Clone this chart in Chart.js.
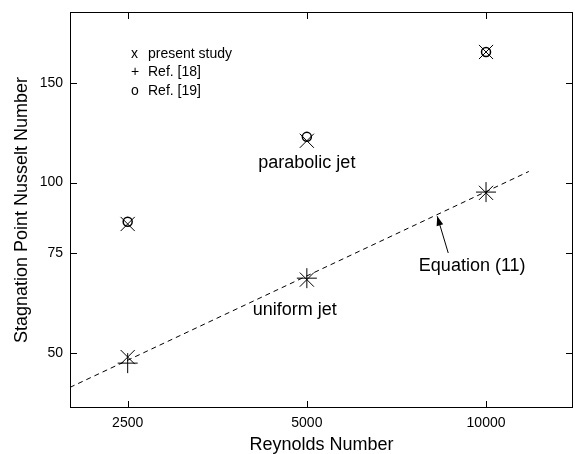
<!DOCTYPE html>
<html>
<head>
<meta charset="utf-8">
<title>Stagnation Point Nusselt Number</title>
<script src="https://cdn.jsdelivr.net/npm/chart.js@4/dist/chart.umd.min.js"></script>
<style>
    body { margin: 0; background: #fff; }
    canvas { display: block; }
</style>
</head>
<body>
<canvas id="nusseltChart" width="575" height="454"></canvas>
<script>
// =============================================
//              DATA
// =============================================

const reynolds = [2500, 5000, 10000];

// uniform jet (lower group) and parabolic jet (upper group)
const presentUniform = [49.2, 67.4, 95.9];
const presentParabolic = [84.5, 118.5, 170];
const ref18Uniform = [48.0, 67.8, 96.2];
const ref19Parabolic = [85.3, 120.4, 170];

// Equation (11), drawn as a straight dashed line on the log-log axes
const equationRe = [2000, 11800];
const equationNu = [43.5, 104.6];

const xTickValues = [2500, 5000, 10000];
const yTickValues = [50, 75, 100, 150];

const FONT = '"Liberation Sans", Arial, Helvetica, sans-serif';

const toPoints = (xs, ys) => xs.map((x, i) => ({ x: x, y: ys[i] }));

// =============================================
//              FRAME, TICKS AND NOTES
// =============================================

const frameAndNotes = {
    id: 'frameAndNotes',
    afterDatasetsDraw(chart) {
        const { ctx, chartArea: a, scales: { x, y } } = chart;
        ctx.save();
        ctx.strokeStyle = '#000';
        ctx.lineWidth = 1;

        // box round the plot area
        ctx.strokeRect(a.left + 0.5, a.top + 0.5, a.right - a.left - 1, a.bottom - a.top - 1);

        // inward tick marks on all four sides
        const len = 7;
        ctx.beginPath();
        xTickValues.forEach(v => {
            const px = Math.round(x.getPixelForValue(v)) + 0.5;
            ctx.moveTo(px, a.bottom); ctx.lineTo(px, a.bottom - len);
            ctx.moveTo(px, a.top); ctx.lineTo(px, a.top + len);
        });
        yTickValues.forEach(v => {
            const py = Math.round(y.getPixelForValue(v)) + 0.5;
            ctx.moveTo(a.left, py); ctx.lineTo(a.left + len, py);
            ctx.moveTo(a.right, py); ctx.lineTo(a.right - len, py);
        });
        ctx.stroke();

        // hand-written key in the upper left corner
        ctx.fillStyle = '#000';
        ctx.textBaseline = 'middle';
        ctx.textAlign = 'left';
        ctx.font = '14px ' + FONT;
        const keyX = a.left + 61;
        const keyRows = [['x', 'present study', 54], ['+', 'Ref. [18]', 72.5], ['o', 'Ref. [19]', 91]];
        keyRows.forEach(([sym, label, ky]) => {
            ctx.fillText(sym, keyX, ky);
            ctx.fillText(label, keyX + 17, ky);
        });

        // curve labels
        ctx.font = '18px ' + FONT;
        ctx.textAlign = 'center';
        ctx.fillText('parabolic jet', x.getPixelForValue(5000), y.getPixelForValue(108.3));
        ctx.fillText('uniform jet', x.getPixelForValue(4770), y.getPixelForValue(59.6));
        ctx.fillText('Equation (11)', x.getPixelForValue(9480), y.getPixelForValue(71.3));

        // arrow pointing at the dashed line
        const tx = x.getPixelForValue(8640), ty = y.getPixelForValue(75.1);
        const hx = x.getPixelForValue(8280), hy = y.getPixelForValue(87.2);
        const ang = Math.atan2(hy - ty, hx - tx);
        ctx.beginPath();
        ctx.moveTo(tx, ty);
        ctx.lineTo(hx, hy);
        ctx.stroke();
        ctx.beginPath();
        ctx.moveTo(hx, hy);
        ctx.lineTo(hx - 10 * Math.cos(ang - 0.35), hy - 10 * Math.sin(ang - 0.35));
        ctx.lineTo(hx - 10 * Math.cos(ang + 0.35), hy - 10 * Math.sin(ang + 0.35));
        ctx.closePath();
        ctx.fill();

        ctx.restore();
    }
};

// =============================================
//              CHART
// =============================================

new Chart(document.getElementById('nusseltChart'), {
    type: 'scatter',
    data: {
        datasets: [
            {
                label: 'Equation (11)',
                type: 'line',
                data: toPoints(equationRe, equationNu),
                borderColor: '#000',
                borderWidth: 1,
                borderDash: [5, 4],
                pointRadius: 0,
                fill: false
            },
            {
                label: 'present study',
                data: toPoints(reynolds, presentUniform).concat(toPoints(reynolds, presentParabolic)),
                pointStyle: 'crossRot',
                pointRadius: 10,
                borderColor: '#000',
                borderWidth: 1
            },
            {
                label: 'Ref. [18]',
                data: toPoints(reynolds, ref18Uniform),
                pointStyle: 'cross',
                pointRadius: 10,
                borderColor: '#000',
                borderWidth: 1
            },
            {
                label: 'Ref. [19]',
                data: toPoints(reynolds, ref19Parabolic),
                pointStyle: 'circle',
                pointRadius: 4.5,
                backgroundColor: 'rgba(0,0,0,0)',
                borderColor: '#000',
                borderWidth: 1.5
            }
        ]
    },
    options: {
        responsive: false,
        animation: false,
        layout: {
            autoPadding: false,
            padding: { top: 12, right: 2, left: 0, bottom: 0 }
        },
        plugins: {
            legend: { display: false },
            tooltip: { enabled: false }
        },
        scales: {
            x: {
                type: 'logarithmic',
                min: 2000,
                max: 14000,
                grid: { display: false, drawTicks: false },
                border: { display: false },
                afterBuildTicks: scale => { scale.ticks = xTickValues.map(v => ({ value: v })); },
                afterFit: scale => {
                    scale.height = 46;
                    scale.paddingLeft = 0;
                    scale.paddingRight = 0;
                },
                ticks: {
                    autoSkip: false,
                    maxRotation: 0,
                    padding: 7,
                    color: '#000',
                    font: { family: FONT, size: 14 },
                    callback: v => String(v)
                },
                title: {
                    display: true,
                    text: 'Reynolds Number',
                    color: '#000',
                    padding: { top: 0, bottom: 0 },
                    font: { family: FONT, size: 18, lineHeight: 1 }
                }
            },
            y: {
                type: 'logarithmic',
                min: 40,
                max: 200,
                grid: { display: false, drawTicks: false },
                border: { display: false },
                afterBuildTicks: scale => { scale.ticks = yTickValues.map(v => ({ value: v })); },
                afterFit: scale => {
                    scale.width = 70;
                    scale.paddingTop = 0;
                    scale.paddingBottom = 0;
                },
                ticks: {
                    autoSkip: false,
                    padding: 7,
                    color: '#000',
                    font: { family: FONT, size: 14 },
                    callback: v => String(v)
                },
                title: {
                    display: true,
                    text: 'Stagnation Point Nusselt Number',
                    color: '#000',
                    padding: { top: 13, bottom: 0 },
                    font: { family: FONT, size: 18, lineHeight: 1 }
                }
            }
        }
    },
    plugins: [frameAndNotes]
});
</script>
</body>
</html>
